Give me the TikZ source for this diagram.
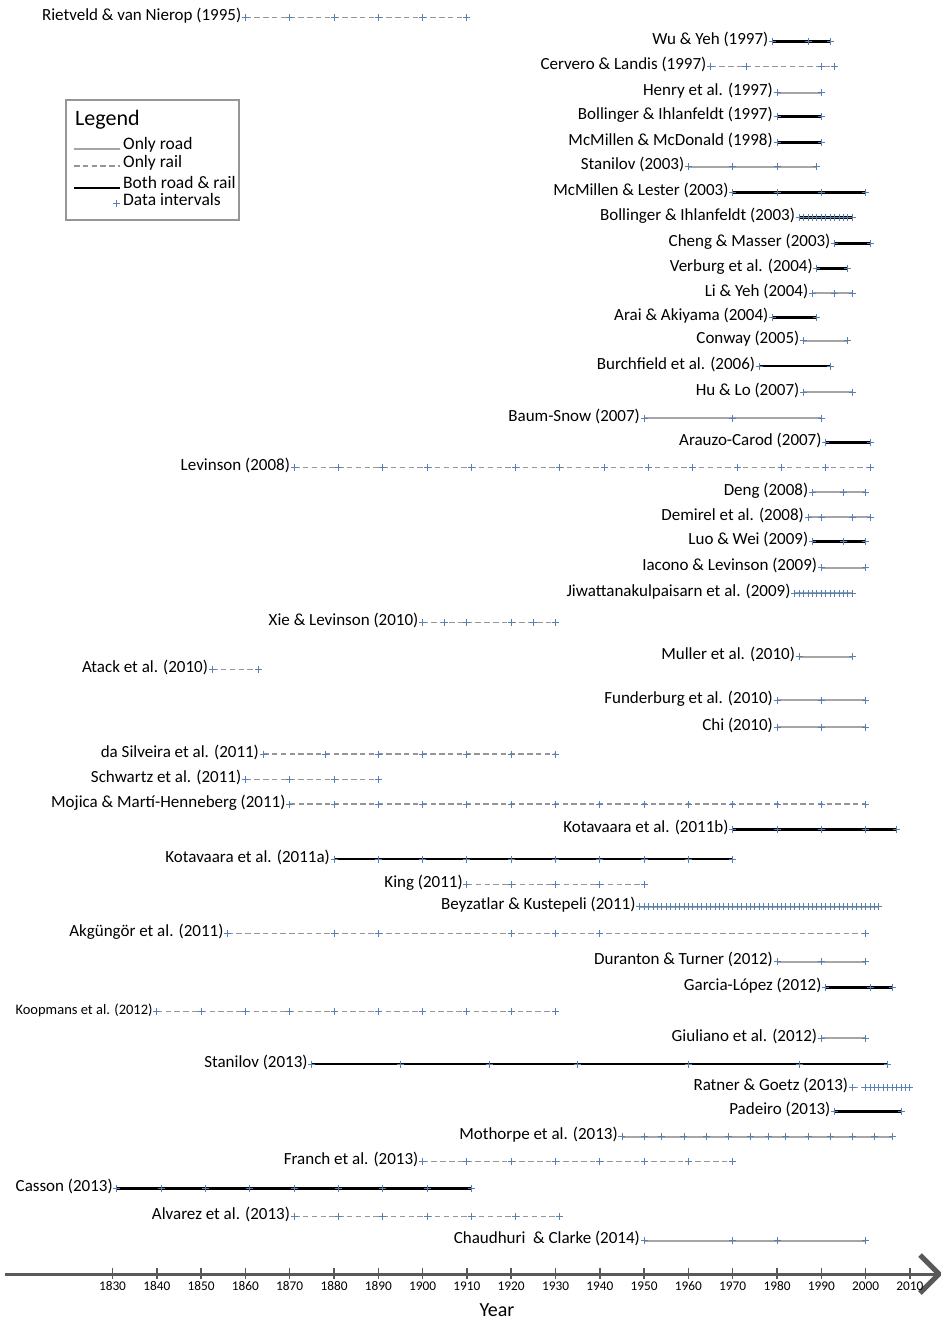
\documentclass[tikz,border=0pt]{standalone}
\usepackage{fontspec}
\setmainfont{Carlito}
\usetikzlibrary{calc,positioning}

\definecolor{markblue}{RGB}{84,130,180}
\definecolor{roadgrey}{RGB}{166,166,166}
\definecolor{railgrey}{RGB}{150,150,150}
\definecolor{axisgrey}{RGB}{89,89,89}
\definecolor{framegrey}{RGB}{150,150,150}

\tikzstyle{studylabel} = [inner sep=0, anchor=base east, font=\fontsize{17}{19}\selectfont]
\tikzstyle{legendtext} = [inner sep=0, anchor=base west, font=\fontsize{17.5}{19}\selectfont]
\tikzstyle{onlyroad} = [roadgrey, line width=2pt]
\tikzstyle{onlyrail} = [railgrey, line width=1.5pt, dash pattern=on 5.5pt off 3.3pt]
\tikzstyle{roadrail} = [black, line width=2.6pt]
\tikzstyle{datamark} = [markblue, line width=0.9pt]
\tikzstyle{legendframe} = [framegrey, line width=2pt]
\tikzstyle{axisline} = [axisgrey, line width=3pt]
\tikzstyle{chevron} = [axisgrey, line width=5pt]
\tikzstyle{yeartick} = [axisgrey, line width=1.5pt]
\tikzstyle{yearlabel} = [inner sep=0, font=\fontsize{13.3}{15}\selectfont]

\newcommand{\yr}[1]{(112.5+((#1)-1830)*4.43)}
\newcommand{\study}[7]{%
  \coordinate (#1-a) at ({\yr{#5}},#2);
  \coordinate (#1-b) at ({\yr{#6}},#2);
  \draw [#4] (#1-a) -- (#1-b);
  \node (#1) [studylabel] at ($(#1-a)+(-4,3)$) {#3};
  \foreach \when in {#7}
    \draw [datamark] ({\yr{\when}},#2) +(-3.5,0) -- +(3.5,0) +(0,-3.5) -- +(0,3.5);
}

\begin{document}
\begin{tikzpicture}[x=1pt, y=-1pt]
\fill [white] (0,0) rectangle (941,1320);
\useasboundingbox (0,0) rectangle (941,1320);

\study{rietveld}{17.3}{Rietveld \& van Nierop (1995)}{onlyrail}{1860}{1910}{1860,1870,...,1910}
\study{wuyeh}{41.7}{Wu \& Yeh (1997)}{roadrail}{1979}{1992}{1979,1987,1992}
\study{cervero}{66.7}{Cervero \& Landis (1997)}{onlyrail}{1965}{1993}{1965,1973,1990,1993}
\study{henry}{92.7}{Henry et al. (1997)}{onlyroad}{1980}{1990}{1980,1990}
\study{bollinger97}{116.7}{Bollinger \& Ihlanfeldt (1997)}{roadrail}{1980}{1990}{1980,1990}
\study{mcdonald}{142.7}{McMillen \& McDonald (1998)}{roadrail}{1980}{1990}{1980,1990}
\study{stanilov03}{166.7}{Stanilov (2003)}{onlyroad}{1960}{1989}{1960,1970,1980,1989}
\study{lester}{192.3}{McMillen \& Lester (2003)}{roadrail}{1970}{2000}{1970,1980,1990,2000}
\study{bollinger03}{217.3}{Bollinger \& Ihlanfeldt (2003)}{roadrail}{1985}{1997}{1985,1986,...,1997}
\study{cheng}{243.3}{Cheng \& Masser (2003)}{roadrail}{1993}{2001}{1993,2001}
\study{verburg}{268.3}{Verburg et al. (2004)}{roadrail}{1989}{1996}{1989,1996}
\study{liyeh}{293.3}{Li \& Yeh (2004)}{onlyroad}{1988}{1997}{1988,1993,1997}
\study{arai}{317.7}{Arai \& Akiyama (2004)}{roadrail}{1979}{1989}{1979,1989}
\study{conway}{340.7}{Conway (2005)}{onlyroad}{1986}{1996}{1986,1996}
\study{burchfield}{366}{Burchfield et al. (2006)}{roadrail}{1976}{1992}{1976,1992}
\study{hulo}{392.3}{Hu \& Lo (2007)}{onlyroad}{1986}{1997}{1986,1997}
\study{baumsnow}{418.3}{Baum-Snow (2007)}{onlyroad}{1950}{1990}{1950,1970,1990}
\study{arauzo}{442.3}{Arauzo-Carod (2007)}{roadrail}{1991}{2001}{1991,2001}
\study{levinson}{467.3}{Levinson (2008)}{onlyrail}{1871}{2001}{1871,1881,...,2001}
\study{deng}{492.3}{Deng (2008)}{onlyroad}{1988}{2000}{1988,1995,2000}
\study{demirel}{517.3}{Demirel et al. (2008)}{onlyroad}{1987}{2001}{1987,1990,1997,2001}
\study{luowei}{541.7}{Luo \& Wei (2009)}{roadrail}{1988}{2000}{1988,1995,2000}
\study{iacono}{567.7}{Iacono \& Levinson (2009)}{onlyroad}{1990}{2000}{1990,2000}
\study{jiwatt}{593.3}{Jiwattanakulpaisarn et al. (2009)}{onlyroad}{1984}{1997}{1984,1985,...,1997}
\study{xie}{622.7}{Xie \& Levinson (2010)}{onlyrail}{1900}{1930}{1900,1905,1910,1920,1925,1930}
\study{muller}{656.7}{Muller et al. (2010)}{onlyroad}{1985}{1997}{1985,1997}
\study{atack}{669.3}{Atack et al. (2010)}{onlyrail}{1852.5}{1863}{1852.5,1863}
\study{funderburg}{700}{Funderburg et al. (2010)}{onlyroad}{1980}{2000}{1980,1990,2000}
\study{chi}{727.3}{Chi (2010)}{onlyroad}{1980}{2000}{1980,1990,2000}
\study{silveira}{754}{da Silveira et al. (2011)}{onlyrail}{1864}{1930}{1864,1878,1890,1900,1910,1920,1930}
\study{schwartz}{779.3}{Schwartz et al. (2011)}{onlyrail}{1860}{1890}{1860,1870,1880,1890}
\study{mojica}{804}{Mojica \& Martí-Henneberg (2011)}{onlyrail}{1870}{2000}{1870,1880,...,2000}
\study{kotavaarab}{829.3}{Kotavaara et al. (2011b)}{roadrail}{1970}{2007}{1970,1980,1990,2000,2007}
\study{kotavaaraa}{859}{Kotavaara et al. (2011a)}{roadrail}{1880}{1970}{1880,1890,...,1970}
\study{king}{884.3}{King (2011)}{onlyrail}{1910}{1950}{1910,1920,...,1950}
\study{beyzatlar}{906.7}{Beyzatlar \& Kustepeli (2011)}{onlyroad}{1949}{2003}{1949,1950,...,2003}
\study{akgungor}{933.3}{Akgüngör et al. (2011)}{onlyrail}{1856}{2000}{1856,1880,1890,1920,1930,1940,2000}
\study{duranton}{961.7}{Duranton \& Turner (2012)}{onlyroad}{1980}{2000}{1980,1990,2000}
\study{garcia}{987.3}{Garcia-López (2012)}{roadrail}{1991}{2006}{1991,2001,2006}
\study{koopmans}{1011.7}{\fontsize{14.5}{16}\selectfont Koopmans et al. (2012)}{onlyrail}{1840}{1930}{1840,1850,...,1930}
\study{giuliano}{1038.3}{Giuliano et al. (2012)}{onlyroad}{1990}{2000}{1990,2000}
\study{stanilov13}{1064}{Stanilov (2013)}{roadrail}{1875}{2005}{1875,1895,1915,1935,1960,1985,2005}
\study{ratner}{1087.3}{Ratner \& Goetz (2013)}{onlyrail}{1997}{2010}{1997,2000,2001,...,2010}
\study{padeiro}{1111.7}{Padeiro (2013)}{roadrail}{1993}{2008}{1993,2008}
\study{mothorpe}{1136.7}{Mothorpe et al. (2013)}{onlyroad}{1945}{2006}{1945,1950,1954,1959,1964,1969,1974,1978,1982,1987,1992,1997,2002,2006}
\study{franch}{1161.7}{Franch et al. (2013)}{onlyrail}{1900}{1970}{1900,1910,...,1970}
\study{casson}{1188.3}{Casson (2013)}{roadrail}{1831}{1911}{1831,1841,...,1911}
\study{alvarez}{1216.7}{Alvarez et al. (2013)}{onlyrail}{1871}{1931}{1871,1881,...,1931}
\study{chaudhuri}{1240.7}{Chaudhuri\ \ \& Clarke (2014)}{onlyroad}{1950}{2000}{1950,1970,1980,2000}

\draw [legendframe] (66,100) rectangle (239,220);
\node (legendtitle) [legendtext, font=\fontsize{22}{24}\selectfont] at (75,125) {Legend};
\coordinate (lroad-a) at (74,149);
\coordinate (lroad-b) at (120,149);
\coordinate (lrail-a) at (74,166);
\coordinate (lrail-b) at (120,166);
\coordinate (lboth-a) at (74,188);
\coordinate (lboth-b) at (120,188);
\coordinate (lmark) at (116,203);
\draw [onlyroad] (lroad-a) -- (lroad-b);
\draw [onlyrail] (lrail-a) -- (lrail-b);
\draw [roadrail] (lboth-a) -- (lboth-b);
\draw [datamark] (lmark) +(-3.5,0) -- +(3.5,0) +(0,-3.5) -- +(0,3.5);
\node (lroad) [legendtext] at ($(lroad-b)+(3,0)$) {Only road};
\node (lrail) [legendtext] at ($(lrail-b)+(3,1)$) {Only rail};
\node (lboth) [legendtext] at ($(lboth-b)+(3,0)$) {Both road \& rail};
\node (lmarktext) [legendtext] at ($(lmark)+(7,2)$) {Data intervals};

\coordinate (axis-a) at (5,1274);
\coordinate (axis-b) at (939,1274);
\draw [axisline] (axis-a) -- (axis-b);
\draw [chevron] ($(axis-b)+(-19,-19)$) -- (axis-b) -- ($(axis-b)+(-19,19)$);
\foreach \yy in {1830,1840,...,2010} {
  \draw [yeartick] ({\yr{\yy}},1268) -- ({\yr{\yy}},1279);
  \node (tick\yy) [yearlabel] at ({\yr{\yy}},1286) {\yy};
}
\node (yearaxis) [font=\fontsize{20}{22}\selectfont] at (497,1310) {Year};
\end{tikzpicture}
\end{document}
